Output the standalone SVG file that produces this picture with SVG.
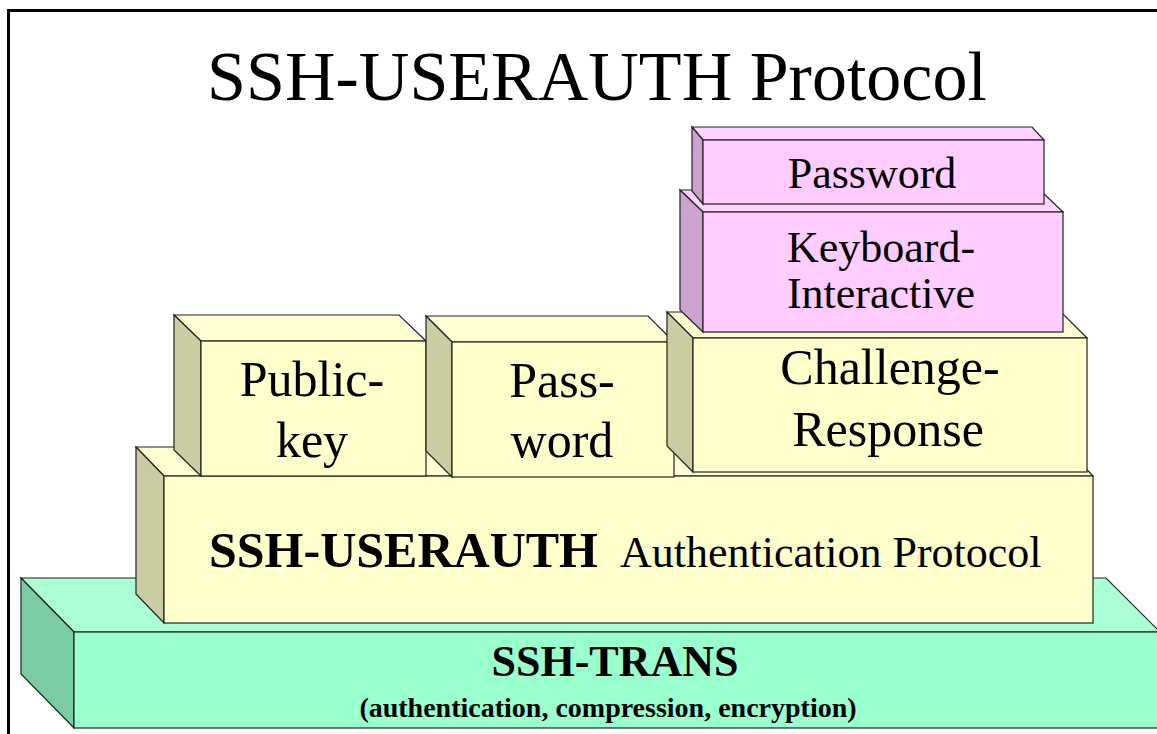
<svg xmlns="http://www.w3.org/2000/svg" width="1157" height="734" viewBox="0 0 1157 734">
<style>
.edge{stroke:#222;stroke-width:1.2;stroke-linejoin:miter}
.yf{fill:#FFFFCC}.yt{fill:#FFFFD2}.ys{fill:#CCCCA3}
.gf{fill:#99FFCC}.gt{fill:#AAFFD4}.gs{fill:#7ACCA3}
.pf{fill:#FFCCFF}.pt{fill:#FFD2FF}.ps{fill:#CCA3CC}
text{font-family:"Liberation Serif","Times New Roman",serif;fill:#000}
.c{text-anchor:middle}
.y{font-size:50px}.p{font-size:44px}
.b{font-weight:bold}
</style>
<rect width="1157" height="734" fill="#fff"/>
<g id="frame">
<path d="M8.5 734 V10.5 H1157" fill="none" stroke="#000" stroke-width="3"/>
</g>
<text id="title" x="597" y="100" class="c" font-size="70">SSH-USERAUTH Protocol</text>
<g id="ssh-trans">
<polygon class="gt edge" points="21,578 1106,578 1160,632 74,632"/>
<polygon class="gs edge" points="21,578 74,632 74,728 21,674"/>
<rect class="gf edge" x="74" y="632" width="1090" height="96"/>
<text x="615" y="676" class="c b" font-size="44">SSH-TRANS</text>
<text x="608" y="717" class="c b" font-size="28">(authentication, compression, encryption)</text>
</g>
<g id="ssh-userauth">
<polygon class="yt edge" points="136,447 1065,447 1093,476 164,476"/>
<polygon class="ys edge" points="136,447 164,476 164,623 136,594"/>
<rect class="yf edge" x="164" y="476" width="929" height="147"/>
<text x="209" y="567" class="b" font-size="50">SSH-USERAUTH</text>
<text x="620" y="567" font-size="44">Authentication Protocol</text>
</g>
<g id="public-key">
<polygon class="yt edge" points="174,315 399,315 426,341 201,341"/>
<polygon class="ys edge" points="174,315 201,341 201,476 174,450"/>
<rect class="yf edge" x="201" y="341" width="225" height="135"/>
<text class="c y" x="312" y="396">Public-</text>
<text class="c y" x="312" y="457">key</text>
</g>
<g id="password">
<polygon class="yt edge" points="426,316 648,316 674,342 452,342"/>
<polygon class="ys edge" points="426,316 452,342 452,477 426,451"/>
<rect class="yf edge" x="452" y="342" width="222" height="135"/>
<text class="c y" x="562" y="397">Pass-</text>
<text class="c y" x="562" y="457">word</text>
</g>
<g id="challenge-response">
<polygon class="yt edge" points="667,312 1061,312 1087,338 693,338"/>
<polygon class="ys edge" points="667,312 693,338 693,472 667,446"/>
<rect class="yf edge" x="693" y="338" width="394" height="134"/>
<text class="c y" x="890" y="384">Challenge-</text>
<text class="c y" x="888" y="446">Response</text>
</g>
<g id="keyboard-interactive">
<polygon class="pt edge" points="680,190 1040,190 1063,212 703,212"/>
<polygon class="ps edge" points="680,190 703,212 703,332 680,310"/>
<rect class="pf edge" x="703" y="212" width="360" height="120"/>
<text class="c p" x="881" y="262">Keyboard-</text>
<text class="c p" x="881" y="308">Interactive</text>
</g>
<g id="kbd-password">
<polygon class="pt edge" points="692,127 1032,127 1044,140 703,140"/>
<polygon class="ps edge" points="692,127 703,140 703,204 692,191"/>
<rect class="pf edge" x="703" y="140" width="341" height="64"/>
<text class="c p" x="872" y="188">Password</text>
</g>
<g id="connectors"/>
</svg>
